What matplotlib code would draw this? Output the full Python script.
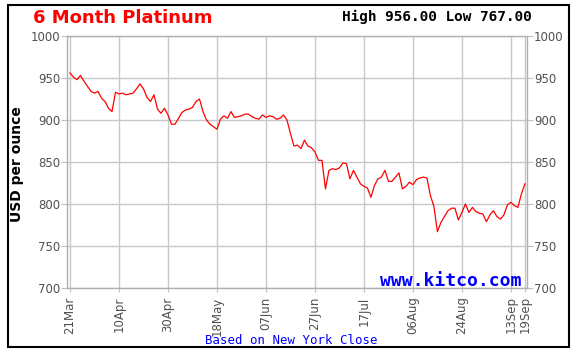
import numpy as np
import matplotlib
matplotlib.use("Agg")
import matplotlib.pyplot as plt
from matplotlib.patches import Rectangle

# daily close, USD per ounce (trading days 21 Mar .. 19 Sep)
prices = [956, 951, 948, 953, 946, 940, 934, 932, 934, 926,
          922, 914, 910, 933, 931, 932, 930, 931, 932, 937,
          943, 937, 927, 922, 930, 913, 908, 914, 906, 895,
          895, 902, 909, 912, 913, 915, 922, 925, 910, 900,
          895, 892, 889, 901, 905, 902, 910, 903, 904, 905,
          907, 907, 904, 902, 901, 906, 903, 905, 904, 901,
          902, 906, 900, 884, 869, 870, 866, 876, 869, 867,
          862, 852, 852, 818, 840, 842, 841, 843, 849, 848,
          830, 840, 832, 824, 821, 819, 808, 822, 830, 832,
          840, 827, 827, 832, 837, 818, 821, 826, 823, 829,
          831, 832, 831, 810, 797, 767, 778, 785, 792, 795,
          795, 781, 790, 800, 790, 796, 791, 789, 788, 779,
          787, 792, 785, 782, 787, 799, 802, 798, 796, 812,
          824]
tick_pos = [0, 14, 28, 42, 56, 70, 84, 98, 112, 126, 130]
tick_lbl = ['21Mar', '10Apr', '30Apr', '18May', '07Jun', '27Jun',
            '17Jul', '06Aug', '24Aug', '13Sep', '19Sep']
y_ticks = [700, 750, 800, 850, 900, 950, 1000]

W, H = 585, 351
fig = plt.figure(figsize=(W/100, H/100), dpi=100, facecolor='w')

# outer frame
fig.patches.append(Rectangle((8/W, 1-347/H), 561/W, 342/H, transform=fig.transFigure,
                             fill=False, edgecolor='k', lw=1.5))

ax = fig.add_axes([67/W, 1-288/H, 460/W, 252/H])
x = np.arange(len(prices))
ax.plot(x, prices, color='#ff0000', lw=0.9)

ax.set_xlim(-0.86, 130.6)
ax.set_ylim(700, 1000)
ax.set_yticks(y_ticks)
ax.set_xticks(tick_pos)
ax.set_xticklabels(tick_lbl, rotation=90, fontsize=8.5, color='#505050')
ax.tick_params(axis='y', labelsize=8.5, labelcolor='#505050', left=True, right=True,
               labelright=True, length=4, color='#c0c0c0', pad=1)
ax.tick_params(axis='x', length=3, color='#c0c0c0', pad=3)
ax.grid(True, color='#c8c8c8', lw=1)
for s in ax.spines.values():
    s.set_color('#b0b0b0')
    s.set_linewidth(1)

ax.set_ylabel('USD per ounce', fontsize=10, fontweight='bold')
ax.yaxis.set_label_coords((24-67)/460, 0.49)

fig.text(33/W, 1-18/H, '6 Month Platinum', color='#ff0000', fontsize=13,
         fontweight='bold', va='center', ha='left')
fig.text(532/W, 1-17/H, 'High 956.00 Low 767.00', family='DejaVu Sans Mono',
         fontsize=10.4, fontweight='bold', va='center', ha='right')
fig.text(521/W, 1-286/H, 'www.kitco.com', family='DejaVu Sans Mono', color='#0000ff',
         fontsize=13, fontweight='bold', va='baseline', ha='right')
fig.text(291/W, 1-340/H, 'Based on New York Close', family='DejaVu Sans Mono',
         color='#0000ff', fontsize=8.9, va='center', ha='center')

fig.savefig('out.png', dpi=100)
